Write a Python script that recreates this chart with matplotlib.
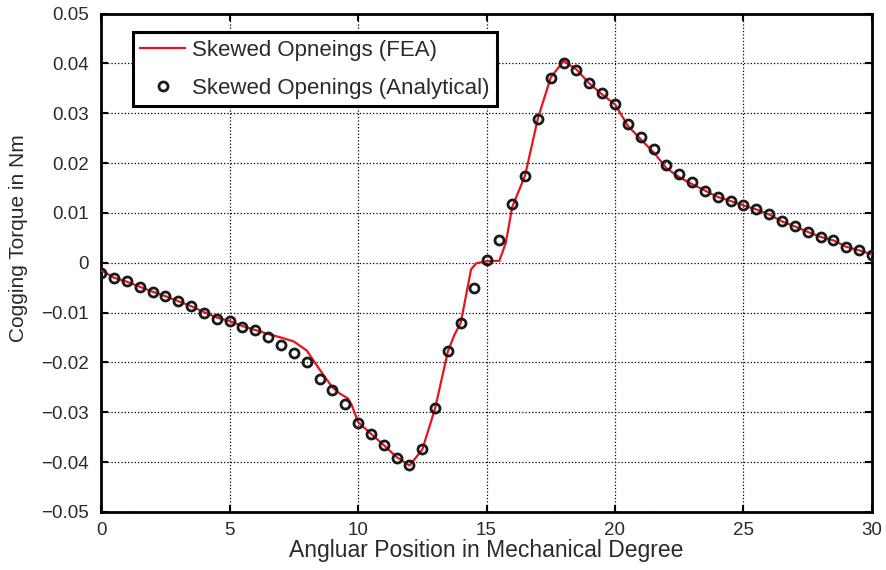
import numpy as np
import matplotlib.pyplot as plt

plt.rcParams['font.family'] = ['Liberation Sans', 'DejaVu Sans']

# FEA curve (red line)
fea_deg = [0, 0.5, 1, 1.5, 2, 2.5, 3, 3.5, 4, 4.5, 5, 5.5, 6, 6.5, 7, 7.5, 8, 8.5,
           9, 9.3, 9.6, 9.75, 10, 10.5, 11, 11.5, 12, 12.5, 13, 13.5, 13.75, 14,
           14.4, 14.6, 15, 15.5, 15.75, 16, 16.5, 17, 17.5, 18, 18.5, 19, 19.5,
           20, 20.5, 21, 21.5, 22, 22.5, 23, 23.5, 24, 24.5, 25, 25.5, 26, 26.5,
           27, 27.5, 28, 28.5, 29, 29.5, 30]
fea_torque = [-0.0015, -0.0030, -0.0038, -0.0048, -0.0058, -0.0067, -0.0077,
              -0.0087, -0.0099, -0.0110, -0.0117, -0.0127, -0.0135, -0.0143,
              -0.0150, -0.0158, -0.0176, -0.0214, -0.0250, -0.0263, -0.0272,
              -0.0285, -0.0320, -0.0343, -0.0366, -0.0390, -0.0407, -0.0375,
              -0.0292, -0.0177, -0.0145, -0.0120, -0.0013, -0.0001, 0.0003,
              0.0004, 0.0040, 0.0112, 0.0175, 0.0290, 0.0372, 0.0405, 0.0388,
              0.0360, 0.0338, 0.0318, 0.0275, 0.0248, 0.0222, 0.0190, 0.0172,
              0.0158, 0.0145, 0.0132, 0.0124, 0.0115, 0.0107, 0.0097, 0.0083,
              0.0073, 0.0062, 0.0052, 0.0045, 0.0032, 0.0025, 0.0017]

# Analytical points (every 0.5 deg)
ana_deg = np.arange(0, 30.01, 0.5)
ana_torque = [-0.0020, -0.0031, -0.0036, -0.0048, -0.0058, -0.0067, -0.0077,
              -0.0086, -0.0100, -0.0113, -0.0117, -0.0128, -0.0135, -0.0148,
              -0.0165, -0.0182, -0.0200, -0.0233, -0.0256, -0.0283, -0.0321,
              -0.0343, -0.0366, -0.0391, -0.0406, -0.0374, -0.0292, -0.0177,
              -0.0120, -0.0050, 0.0006, 0.0046, 0.0117, 0.0175, 0.0288, 0.0370,
              0.0402, 0.0387, 0.0361, 0.0341, 0.0318, 0.0278, 0.0253, 0.0229,
              0.0196, 0.0179, 0.0162, 0.0145, 0.0132, 0.0124, 0.0115, 0.0108,
              0.0097, 0.0083, 0.0073, 0.0062, 0.0052, 0.0046, 0.0031, 0.0026,
              0.0016]

ytick_labels = ['\u22120.05', '\u22120.04', '\u22120.03', '\u22120.02', '\u22120.01', '0',
                '0.01', '0.02', '0.03', '0.04', '0.05']

txt = '#2a2a2a'

fig = plt.figure(figsize=(8.87, 5.70), dpi=100)
ax = fig.add_axes([0.114, 0.102, 0.869, 0.874])

ax.plot(fea_deg, fea_torque, color='#e8141c', lw=1.6, label='Skewed Opneings (FEA)', zorder=3)
ax.plot(ana_deg, ana_torque, 'o', ms=6.5, mfc='none', mec='#1a1a1a', mew=2.0,
        label='Skewed Openings (Analytical)', zorder=4)

ax.set_xlim(0, 30)
ax.set_ylim(-0.05, 0.05)
ax.set_xticks(range(0, 31, 5))
ax.set_yticks(np.linspace(-0.05, 0.05, 11))
ax.set_yticklabels(ytick_labels)
ax.grid(True, color='k', linestyle=':', linewidth=0.9)
ax.tick_params(direction='in', length=5, width=1.5, top=True, right=True,
               labelsize=13.5, labelcolor=txt)
ax.tick_params(axis='x', pad=7)
ax.tick_params(axis='y', pad=9)
for s in ax.spines.values():
    s.set_linewidth(2)

ax.set_xlabel('Angluar Position in Mechanical Degree', fontsize=16.5, color=txt, labelpad=0)
ax.set_ylabel('Cogging Torque in Nm', fontsize=15, color=txt, labelpad=4)
ax.yaxis.set_label_coords(-0.095, 0.55)

leg = ax.legend(loc='upper left', bbox_to_anchor=(0.041, 0.963), borderaxespad=0,
                fancybox=False, edgecolor='k', framealpha=1, fontsize=16,
                handlelength=2.0, borderpad=0.35, labelspacing=0.75, handletextpad=0.3,
                labelcolor=txt)
leg.get_frame().set_linewidth(2.2)

fig.savefig('out.png', dpi=100)
